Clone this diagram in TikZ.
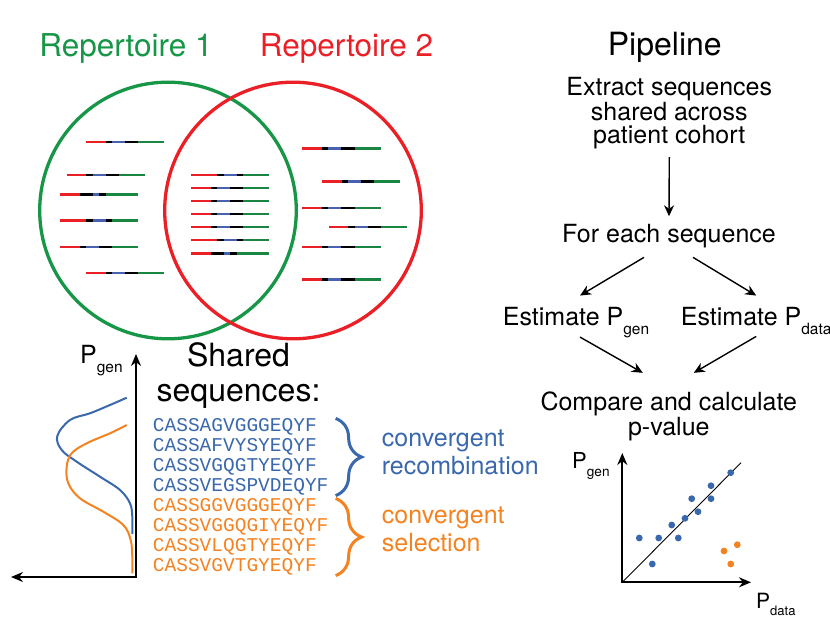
\documentclass[tikz,border=0pt]{standalone}
\usepackage{fontspec}
\setmainfont{TeX Gyre Heros}
\setmonofont{Liberation Mono}
\usepackage{xcolor}
\usepackage{tikz}
\usepackage{graphicx}
\usetikzlibrary{arrows.meta, positioning, calc, decorations.pathreplacing}

\definecolor{venngreen}{RGB}{22,150,70}
\definecolor{vennred}{RGB}{235,32,39}
\definecolor{seqblue}{RGB}{58,104,172}
\definecolor{seqorange}{RGB}{245,130,32}
\definecolor{barred}{RGB}{235,32,39}
\definecolor{barblue}{RGB}{72,98,176}
\definecolor{bargreen}{RGB}{25,135,65}

\tikzstyle{venn} = [line width=3.3pt]
\tikzstyle{seqline} = [line width=2.4pt]
\tikzstyle{bigtext} = [font=\fontsize{31.5}{35}\selectfont, inner sep=0pt]
\tikzstyle{pipetext} = [font=\fontsize{25}{23.5}\selectfont, align=center, inner sep=0pt]
\tikzstyle{seqtext} = [font=\ttfamily\fontsize{19.5}{20}\selectfont, align=left, inner sep=0pt]
\tikzstyle{conlabel} = [font=\fontsize{25}{28.3}\selectfont, align=left, inner sep=0pt]
\tikzstyle{arrow} = [line width=1.4pt, -{Stealth[length=11pt,width=10pt]}]
\tikzstyle{plotaxis} = [line width=2pt, {Stealth[length=12pt,width=10pt]}-{Stealth[length=12pt,width=10pt]}]
\tikzstyle{curve} = [line width=2pt, smooth, tension=0.6]
\tikzstyle{seqbrace} = [decorate, decoration={brace, amplitude=26pt}, line width=3pt]

% lowered small subscript, as in P_gen
\newcommand{\lowsub}[1]{\raisebox{-0.38em}{\scalebox{0.62}{#1}}}
% one sequence bar: x, y, then red/black/blue/black/green lengths
\newcommand{\seqbar}[7]{%
  \draw[seqline, barred] (#1,#2) -- ++(6.53*#3,0) coordinate (sb1);
  \draw[seqline, black] (sb1) -- ++(6.53*#4,0) coordinate (sb2);
  \draw[seqline, barblue] (sb2) -- ++(6.53*#5,0) coordinate (sb3);
  \draw[seqline, black] (sb3) -- ++(6.53*#6,0) coordinate (sb4);
  \draw[seqline, bargreen] (sb4) -- ++(6.53*#7,0);
}

\begin{document}
\begin{tikzpicture}[x=1pt, y=-1pt]
    \useasboundingbox (0,0) rectangle (830,623);

    % repertoires
    \node[bigtext, venngreen, anchor=base] (rep1) at (126,56.7) {Repertoire 1};
    \node[bigtext, vennred, anchor=base] (rep2) at (346.5,56.7) {Repertoire 2};
    \draw[venn, venngreen] (168,210.5) circle (128.3);
    \draw[venn, vennred] (293,210.5) circle (128.3);

    \seqbar{86}{142.3}{3}{1}{2}{2}{4}
    \seqbar{66.7}{174.7}{3}{1}{2}{2}{4}
    \seqbar{60}{194.3}{3}{2}{1}{1}{5}
    \seqbar{60}{220.3}{4}{1}{2}{1}{4}
    \seqbar{60}{246.7}{3}{1}{2}{2}{4}
    \seqbar{86}{273}{3}{1}{2}{2}{4}

    \seqbar{191}{174.7}{4}{1}{2}{1}{4}
    \seqbar{191}{187.7}{3}{1}{2}{2}{4}
    \seqbar{191}{200.7}{3}{1}{2}{2}{4}
    \seqbar{191}{214}{3}{1}{2}{2}{4}
    \seqbar{191}{227}{3}{1}{2}{2}{4}
    \seqbar{191}{240}{4}{1}{2}{1}{4}
    \seqbar{191}{253.3}{3}{2}{1}{1}{5}

    \seqbar{302.3}{148.7}{3}{1}{2}{2}{4}
    \seqbar{322}{181.3}{3}{1}{2}{2}{4}
    \seqbar{302.3}{207.7}{3}{1}{2}{2}{4}
    \seqbar{328.7}{227}{3}{1}{2}{2}{4}
    \seqbar{302.3}{246.7}{3}{1}{2}{2}{4}
    \seqbar{302.3}{279.3}{3}{1}{2}{2}{4}

    % Pgen distributions
    \node[font=\fontsize{25}{28}\selectfont, inner sep=0pt, anchor=base west] (lpgen) at (80,363) {P\lowsub{gen}};
    \coordinate (ltop) at (136,354);
    \coordinate (lorig) at (136,577);
    \coordinate (lleft) at (11,577);
    \draw[plotaxis] (ltop) -- (lorig) -- (lleft);
    \draw[curve, seqblue] plot coordinates {(126.7,397.7) (110,405) (90,413.3) (70,420) (57.3,436) (61.7,450) (76.7,461.7) (100,476.7) (120,490) (130,503.3) (132.3,516.7) (132.3,534)};
    \draw[curve, seqorange] plot coordinates {(126.7,425) (110,433.3) (86.7,443.3) (71.7,453.3) (66.7,466.7) (68.3,483.3) (80,498.3) (103.3,511.7) (123.3,525) (130.7,540) (132.3,556.7) (132.3,573.3)};

    % shared sequences
    \node[bigtext, font=\fontsize{32}{35}\selectfont, align=center, anchor=base] (shared) at (238.5,401.7) {Shared\\sequences:};
    \node[seqtext, seqblue, anchor=base west] (recseqs) at (152.7,491.7) {CASSAGVGGGEQYF\\CASSAFVYSYEQYF\\CASSVGQGTYEQYF\\CASSVEGSPVDEQYF};
    \node[seqtext, seqorange, anchor=base west] (selseqs) at (152.7,571.7) {CASSGGVGGGEQYF\\CASSVGGQGIYEQYF\\CASSVLQGTYEQYF\\CASSVGVTGYEQYF};
    \draw[seqbrace, seqblue] ([xshift=7pt]recseqs.north east) -- ([xshift=7pt]recseqs.south east);
    \draw[seqbrace, seqorange] ([xshift=7pt]selseqs.north east) -- ([xshift=7pt]selseqs.south east);
    \node[conlabel, seqblue, anchor=base west] (recomb) at (381.7,474.3) {convergent\\recombination};
    \node[conlabel, seqorange, anchor=base west] (select) at (381.7,551.7) {convergent\\selection};

    % pipeline
    \node[bigtext, font=\fontsize{32}{35}\selectfont, anchor=base] (pipeline) at (664.8,56) {Pipeline};
    \node[pipetext, anchor=base] (extract) at (669.3,144) {Extract sequences\\shared across\\patient cohort};
    \node[pipetext, anchor=base] (foreach) at (669,242.7) {For each sequence};
    \node[pipetext, anchor=base west] (estgen) at (502.7,325) {Estimate P\lowsub{gen}};
    \node[pipetext, anchor=base west] (estdata) at (680.7,325) {Estimate P\lowsub{data}};
    \node[pipetext, font=\fontsize{25}{24.3}\selectfont, anchor=base] (compare) at (668.8,435) {Compare and calculate\\p-value};

    \draw[arrow] ([yshift=-7.5pt]extract.south) -- ([yshift=8pt]foreach.north);
    \draw[arrow] ([xshift=-25pt,yshift=-9pt]foreach.south) -- ([xshift=4pt,yshift=11pt]estgen.north);
    \draw[arrow] ([xshift=24pt,yshift=-9pt]foreach.south) -- ([yshift=11pt]estdata.north);
    \draw[arrow] ([xshift=4pt,yshift=1pt]estgen.south) -- ([xshift=-26pt,yshift=19pt]compare.north);
    \draw[arrow] ([yshift=-1.5pt]estdata.south) -- ([xshift=25pt,yshift=19pt]compare.north);

    % Pgen against Pdata
    \node[font=\fontsize{22}{26}\selectfont, inner sep=0pt, anchor=base west] (spgen) at (572,468) {P\lowsub{gen}};
    \node[font=\fontsize{21}{26}\selectfont, inner sep=0pt, anchor=base west] (spdata) at (756,608) {P\lowsub{data}};
    \coordinate (stop) at (622.3,453);
    \coordinate (sorig) at (622.3,582.3);
    \coordinate (sright) at (751,582.3);
    \coordinate (sdiag) at (741,462.7);
    \draw[plotaxis] (stop) -- (sorig) -- (sright);
    \draw[line width=0.9pt] (sorig) -- (sdiag);
    \fill[seqblue] (639.3,538) circle (3.4); \fill[seqblue] (652.3,564) circle (3.4);
    \fill[seqblue] (658.7,538) circle (3.4); \fill[seqblue] (671.7,525) circle (3.4);
    \fill[seqblue] (678.3,538) circle (3.4); \fill[seqblue] (685,518.3) circle (3.4);
    \fill[seqblue] (691.7,498.7) circle (3.4); \fill[seqblue] (698,511.7) circle (3.4);
    \fill[seqblue] (711,485.7) circle (3.4); \fill[seqblue] (711,498.7) circle (3.4);
    \fill[seqblue] (730.7,472.7) circle (3.4);
    \fill[seqorange] (724,551) circle (3.4); \fill[seqorange] (737.3,544.7) circle (3.4);
    \fill[seqorange] (730.7,564) circle (3.4);
\end{tikzpicture}
\end{document}
